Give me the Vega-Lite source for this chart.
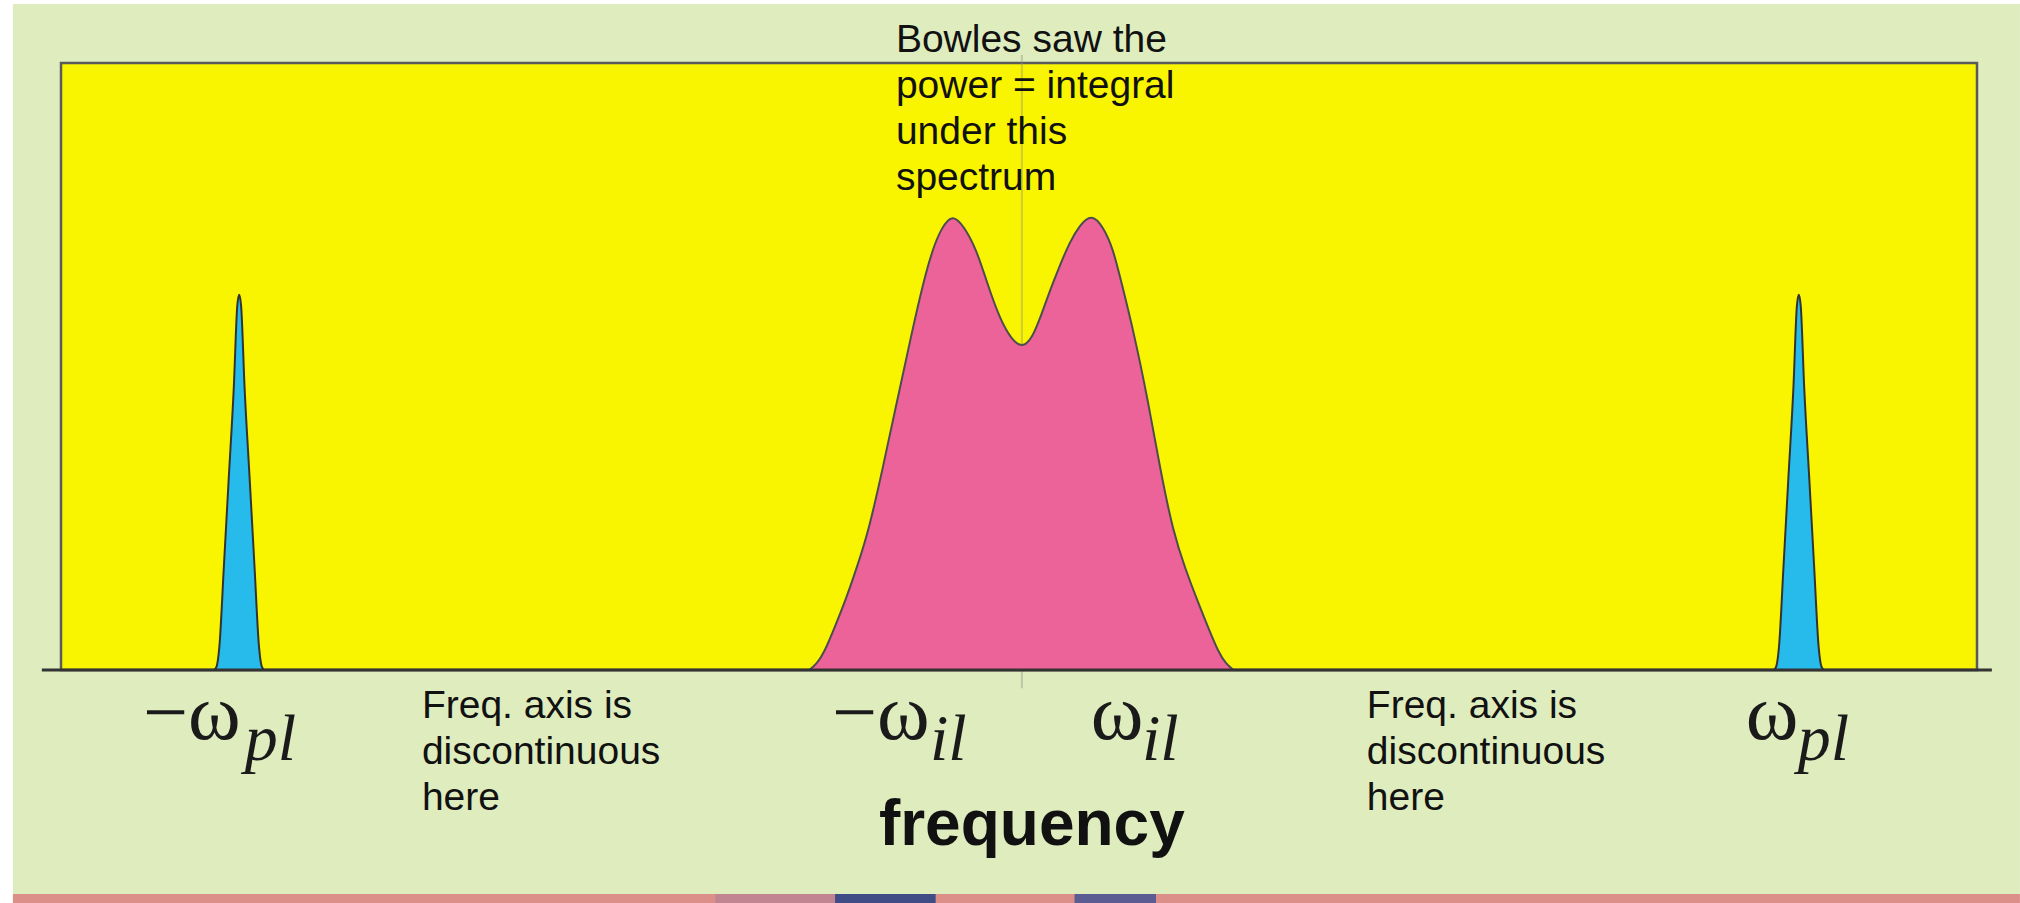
{
  "$schema": "https://vega.github.io/schema/vega-lite/v6.json",
  "width": 1916,
  "height": 607,
  "autosize": {"type": "none"},
  "padding": {"left": 61, "top": 63, "right": 43, "bottom": 233},
  "background": "white",
  "config": {"view": {"stroke": null, "fill": null}},
  "layer": [
    {
      "data": {"values": [{"x": -10.532, "x2": 10.418, "y": 1.0972, "y2": -0.369}]},
      "mark": {"type": "rect", "color": "#DEECBE"},
      "encoding": {
        "x": {"field": "x", "type": "quantitative", "scale": {"domain": [-10.03, 9.97], "nice": false, "zero": false}, "axis": null},
        "x2": {"field": "x2"},
        "y": {"field": "y", "type": "quantitative", "scale": {"domain": [0, 1], "nice": false, "zero": false}, "axis": null},
        "y2": {"field": "y2"}
      }
    },
    {
      "data": {"values": [
        {"x": -10.532, "x2": 10.418, "y": -0.369, "y2": -0.392, "c": "a"},
        {"x": -3.2, "x2": -1.95, "y": -0.369, "y2": -0.392, "c": "b"},
        {"x": -1.95, "x2": -0.9, "y": -0.369, "y2": -0.392, "c": "c"},
        {"x": 0.55, "x2": 1.4, "y": -0.369, "y2": -0.392, "c": "d"}
      ]},
      "mark": {"type": "rect"},
      "encoding": {
        "x": {"field": "x", "type": "quantitative", "scale": {"domain": [-10.03, 9.97], "nice": false, "zero": false}, "axis": null},
        "x2": {"field": "x2"},
        "y": {"field": "y", "type": "quantitative", "scale": {"domain": [0, 1], "nice": false, "zero": false}, "axis": null},
        "y2": {"field": "y2"},
        "color": {"field": "c", "type": "nominal", "scale": {"domain": ["a", "b", "c", "d"], "range": ["#DC8E88", "#C08590", "#3F4C86", "#5B5C92"]}, "legend": null}
      }
    },
    {
      "data": {"values": [{"x": -10.03, "x2": 9.97, "y": 1, "y2": 0}]},
      "mark": {"type": "rect", "color": "#F9F500", "stroke": "#5A5A5A", "strokeWidth": 2.5},
      "encoding": {
        "x": {"field": "x", "type": "quantitative", "scale": {"domain": [-10.03, 9.97], "nice": false, "zero": false}, "axis": null},
        "x2": {"field": "x2"},
        "y": {"field": "y", "type": "quantitative", "scale": {"domain": [0, 1], "nice": false, "zero": false}, "axis": null},
        "y2": {"field": "y2"}
      }
    },
    {
      "data": {"values": [{"x": 0, "y": -0.03, "y2": 1.0132}]},
      "mark": {"type": "rule", "color": "#8F8F80", "strokeWidth": 2, "opacity": 0.4},
      "encoding": {
        "x": {"field": "x", "type": "quantitative", "scale": {"domain": [-10.03, 9.97], "nice": false, "zero": false}, "axis": null},
        "y": {"field": "y", "type": "quantitative", "scale": {"domain": [0, 1], "nice": false, "zero": false}, "axis": null},
        "y2": {"field": "y2"}
      }
    },
    {
      "data": {"values": [
        {"x": -2.22, "y": 0}, {"x": -2.14, "y": 0.01}, {"x": -2.06, "y": 0.03}, {"x": -1.96, "y": 0.068},
        {"x": -1.84, "y": 0.115}, {"x": -1.72, "y": 0.17}, {"x": -1.595, "y": 0.232}, {"x": -1.45, "y": 0.334},
        {"x": -1.30, "y": 0.445}, {"x": -1.15, "y": 0.555}, {"x": -1.03, "y": 0.638}, {"x": -0.93, "y": 0.694},
        {"x": -0.84, "y": 0.728}, {"x": -0.725, "y": 0.752}, {"x": -0.6, "y": 0.73},
        {"x": -0.473, "y": 0.692}, {"x": -0.368, "y": 0.64}, {"x": -0.23, "y": 0.578},
        {"x": -0.11, "y": 0.545}, {"x": 0, "y": 0.53},
        {"x": 0.11, "y": 0.547}, {"x": 0.2, "y": 0.584}, {"x": 0.3, "y": 0.628}, {"x": 0.4, "y": 0.668},
        {"x": 0.5, "y": 0.705}, {"x": 0.6, "y": 0.732}, {"x": 0.727, "y": 0.752},
        {"x": 0.85, "y": 0.73}, {"x": 0.95, "y": 0.695}, {"x": 1.04, "y": 0.638},
        {"x": 1.17, "y": 0.555}, {"x": 1.315, "y": 0.445}, {"x": 1.44, "y": 0.334}, {"x": 1.58, "y": 0.226},
        {"x": 1.71, "y": 0.165}, {"x": 1.83, "y": 0.115}, {"x": 1.95, "y": 0.068}, {"x": 2.05, "y": 0.03},
        {"x": 2.13, "y": 0.01}, {"x": 2.21, "y": 0}
      ]},
      "mark": {"type": "area", "color": "#EC6399", "stroke": "#4D4D4D", "strokeWidth": 2, "interpolate": "basis"},
      "encoding": {
        "x": {"field": "x", "type": "quantitative", "scale": {"domain": [-10.03, 9.97], "nice": false, "zero": false}, "axis": null},
        "y": {"field": "y", "type": "quantitative", "scale": {"domain": [0, 1], "nice": false, "zero": false}, "axis": null}
      }
    },
    {
      "data": {"values": [
        {"x": -8.43, "y": 0}, {"x": -8.405, "y": 0.006}, {"x": -8.377, "y": 0.038}, {"x": -8.33, "y": 0.17},
        {"x": -8.28, "y": 0.313}, {"x": -8.226, "y": 0.466}, {"x": -8.19, "y": 0.6}, {"x": -8.17, "y": 0.618},
        {"x": -8.15, "y": 0.6}, {"x": -8.114, "y": 0.466}, {"x": -8.06, "y": 0.313}, {"x": -8.01, "y": 0.17},
        {"x": -7.963, "y": 0.038}, {"x": -7.935, "y": 0.006}, {"x": -7.91, "y": 0}
      ]},
      "mark": {"type": "area", "color": "#27BBEC", "stroke": "#333333", "strokeWidth": 2, "interpolate": "monotone"},
      "encoding": {
        "x": {"field": "x", "type": "quantitative", "scale": {"domain": [-10.03, 9.97], "nice": false, "zero": false}, "axis": null},
        "y": {"field": "y", "type": "quantitative", "scale": {"domain": [0, 1], "nice": false, "zero": false}, "axis": null}
      }
    },
    {
      "data": {"values": [
        {"x": 7.85, "y": 0}, {"x": 7.875, "y": 0.006}, {"x": 7.903, "y": 0.038}, {"x": 7.95, "y": 0.17},
        {"x": 8.0, "y": 0.313}, {"x": 8.054, "y": 0.466}, {"x": 8.09, "y": 0.6}, {"x": 8.11, "y": 0.618},
        {"x": 8.13, "y": 0.6}, {"x": 8.166, "y": 0.466}, {"x": 8.22, "y": 0.313}, {"x": 8.27, "y": 0.17},
        {"x": 8.317, "y": 0.038}, {"x": 8.345, "y": 0.006}, {"x": 8.37, "y": 0}
      ]},
      "mark": {"type": "area", "color": "#27BBEC", "stroke": "#333333", "strokeWidth": 2, "interpolate": "monotone"},
      "encoding": {
        "x": {"field": "x", "type": "quantitative", "scale": {"domain": [-10.03, 9.97], "nice": false, "zero": false}, "axis": null},
        "y": {"field": "y", "type": "quantitative", "scale": {"domain": [0, 1], "nice": false, "zero": false}, "axis": null}
      }
    },
    {
      "data": {"values": [{"x": -10.23, "x2": 10.125, "y": 0}]},
      "mark": {"type": "rule", "color": "#333333", "strokeWidth": 3},
      "encoding": {
        "x": {"field": "x", "type": "quantitative", "scale": {"domain": [-10.03, 9.97], "nice": false, "zero": false}, "axis": null},
        "x2": {"field": "x2"},
        "y": {"field": "y", "type": "quantitative", "scale": {"domain": [0, 1], "nice": false, "zero": false}, "axis": null}
      }
    },
    {
      "data": {"values": [
        {"x": -1.315, "y": 1.0181, "t": "Bowles saw the\npower = integral\nunder this\nspectrum"},
        {"x": -6.263, "y": -0.0791, "t": "Freq. axis is\ndiscontinuous\nhere"},
        {"x": 3.601, "y": -0.0791, "t": "Freq. axis is\ndiscontinuous\nhere"}
      ]},
      "mark": {"type": "text", "font": "Liberation Sans", "fontSize": 39, "lineHeight": 46, "lineBreak": "\n", "align": "left", "baseline": "alphabetic", "color": "#111111"},
      "encoding": {
        "x": {"field": "x", "type": "quantitative", "scale": {"domain": [-10.03, 9.97], "nice": false, "zero": false}, "axis": null},
        "y": {"field": "y", "type": "quantitative", "scale": {"domain": [0, 1], "nice": false, "zero": false}, "axis": null},
        "text": {"field": "t"}
      }
    },
    {
      "data": {"values": [
        {"x": -9.175, "y": -0.1137, "t": "−ω"},
        {"x": -1.983, "y": -0.1137, "t": "−ω"},
        {"x": 0.72, "y": -0.1137, "t": "ω"},
        {"x": 7.557, "y": -0.1137, "t": "ω"}
      ]},
      "mark": {"type": "text", "font": "Liberation Serif", "fontSize": 80, "align": "left", "baseline": "alphabetic", "color": "#1A1A1A"},
      "encoding": {
        "x": {"field": "x", "type": "quantitative", "scale": {"domain": [-10.03, 9.97], "nice": false, "zero": false}, "axis": null},
        "y": {"field": "y", "type": "quantitative", "scale": {"domain": [0, 1], "nice": false, "zero": false}, "axis": null},
        "text": {"field": "t"}
      }
    },
    {
      "data": {"values": [
        {"x": -8.111, "y": -0.1483, "t": "pl"},
        {"x": -0.96, "y": -0.1483, "t": "il"},
        {"x": 1.253, "y": -0.1483, "t": "il"},
        {"x": 8.1, "y": -0.1483, "t": "pl"}
      ]},
      "mark": {"type": "text", "font": "Liberation Serif", "fontStyle": "italic", "fontSize": 66, "align": "left", "baseline": "alphabetic", "color": "#1A1A1A"},
      "encoding": {
        "x": {"field": "x", "type": "quantitative", "scale": {"domain": [-10.03, 9.97], "nice": false, "zero": false}, "axis": null},
        "y": {"field": "y", "type": "quantitative", "scale": {"domain": [0, 1], "nice": false, "zero": false}, "axis": null},
        "text": {"field": "t"}
      }
    },
    {
      "data": {"values": [{"x": 0.104, "y": -0.2883, "t": "frequency"}]},
      "mark": {"type": "text", "font": "Liberation Sans", "fontWeight": "bold", "fontSize": 64, "align": "center", "baseline": "alphabetic", "color": "#111111"},
      "encoding": {
        "x": {"field": "x", "type": "quantitative", "scale": {"domain": [-10.03, 9.97], "nice": false, "zero": false}, "axis": null},
        "y": {"field": "y", "type": "quantitative", "scale": {"domain": [0, 1], "nice": false, "zero": false}, "axis": null},
        "text": {"field": "t"}
      }
    }
  ]
}
